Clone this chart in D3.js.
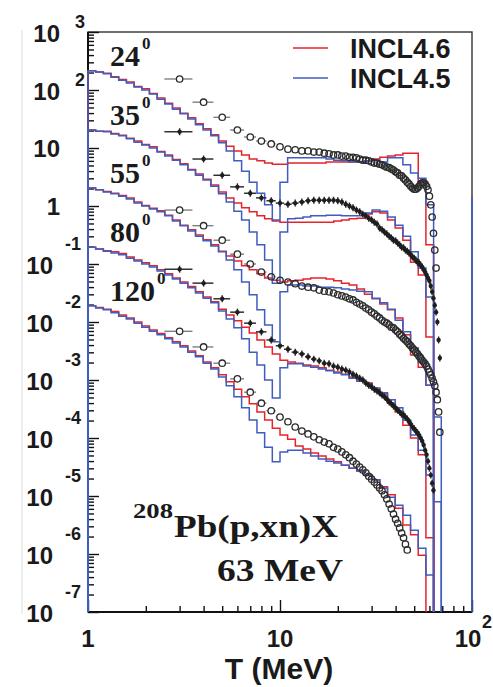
<!DOCTYPE html>
<html>
<head>
<meta charset="utf-8">
<style>
  html, body { margin: 0; padding: 0; background: #fff; }
  svg { display: block; }
</style>
<script src="https://cdn.jsdelivr.net/npm/d3@7"></script>
</head>
<body>
<div id="graph"></div>
<script>
// Values are log10 of d2sigma/dOmega dT (mb/sr/MeV).
// Model histograms share these bin edges (MeV).
const binEdges = [1, 1.096, 1.202, 1.318, 1.445, 1.585, 1.738, 1.905, 2.089, 2.291,
  2.512, 2.754, 3.02, 3.311, 3.631, 3.981, 4.365, 4.786, 5.248, 5.754, 6.31, 6.918,
  7.586, 8.318, 9.12, 10, 10.96, 12.02, 13.18, 14.45, 15.85, 17.38, 19.05, 20.89,
  22.91, 25.12, 27.54, 30.2, 33.11, 36.31, 39.81, 43.65, 47.86, 52.48, 57.54, 63.1, 69.18];

const angles = ["24", "35", "55", "80", "120"];

// INCL4.6 (red)
const incl46_24 = [2.33, 2.31, 2.29, 2.23, 2.18, 2.14, 2.06, 2.02, 1.94, 1.86, 1.77, 1.69, 1.60, 1.52, 1.42, 1.33, 1.23,
  1.12, 1.03, 0.95, 0.88, 0.81, 0.78, 0.74, 0.72,
  0.72, 0.74, 0.74, 0.74, 0.74, 0.74, 0.76, 0.76, 0.76, 0.76, 0.76,
  0.78, 0.81, 0.84, 0.86, 0.88, 0.91, 0.91, 0.41, -0.67, null];
const incl46_35 = [1.31, 1.29, 1.29, 1.25, 1.22, 1.17, 1.12, 1.06, 1.02, 0.94, 0.88, 0.80, 0.73, 0.63, 0.55, 0.46, 0.36,
  0.24, 0.14, 0.05, -0.03, -0.10, -0.17, -0.22, -0.26,
  -0.28, -0.28, -0.28, -0.28, -0.28, -0.28, -0.28, -0.26, -0.24, -0.22, -0.21,
  -0.14, -0.10, -0.12, -0.24, -0.38, -0.59, -0.97, -1.19, -2.26, null];
const incl46_55 = [0.31, 0.28, 0.25, 0.22, 0.18, 0.14, 0.07, 0.01, -0.04, -0.08, -0.16, -0.24, -0.33, -0.41, -0.50, -0.58, -0.67,
  -0.78, -0.86, -0.95, -1.03, -1.10, -1.17, -1.24, -1.28,
  -1.31, -1.29, -1.28, -1.26, -1.24, -1.24, -1.26, -1.29, -1.33, -1.36, -1.43,
  -1.52, -1.60, -1.69, -1.79, -1.93, -2.22, -2.57, -2.78, -3.09, null];
const incl46_80 = [-0.71, -0.74, -0.77, -0.79, -0.82, -0.88, -0.93, -0.98, -1.03, -1.10, -1.17, -1.24, -1.31, -1.39, -1.48, -1.57, -1.65,
  -1.78, -1.88, -1.98, -2.09, -2.19, -2.31, -2.43, -2.55,
  -2.66, -2.69, -2.71, -2.74, -2.76, -2.79, -2.83, -2.86, -2.90, -2.95, -3.00,
  -3.05, -3.16, -3.24, -3.40, -3.55, -3.78, -4.00, -4.29, -5.72, null];
const incl46_120 = [-1.72, -1.75, -1.78, -1.82, -1.88, -1.93, -2.00, -2.07, -2.14, -2.20, -2.27, -2.34, -2.41, -2.50, -2.58, -2.69, -2.79,
  -2.91, -3.03, -3.16, -3.29, -3.41, -3.55, -3.69, -3.83,
  -3.95, -4.02, -4.14, -4.19, -4.26, -4.31, -4.36, -4.41, -4.47, -4.52, -4.57,
  -4.64, -4.72, -4.84, -4.98, -5.21, -5.50, -5.67, -6.02, null, null];

// INCL4.5 (blue)
const incl45_24 = [2.33, 2.31, 2.28, 2.22, 2.17, 2.12, 2.05, 2.00, 1.93, 1.84, 1.76, 1.67, 1.59, 1.50, 1.40, 1.31, 1.21,
  1.09, 0.95, 0.78, 0.60, 0.41, 0.22, 0.02, -0.24,
  0.41, 0.83, 0.83, 0.83, 0.83, 0.83, 0.81, 0.79, 0.78, 0.76, 0.76,
  0.78, 0.79, 0.76, 0.83, 0.83, 0.71, 0.57, 0.48, 0.02, null];
const incl45_35 = [1.31, 1.29, 1.28, 1.24, 1.21, 1.16, 1.10, 1.05, 1.00, 0.93, 0.86, 0.79, 0.71, 0.62, 0.53, 0.45, 0.34,
  0.21, 0.07, -0.09, -0.24, -0.45, -0.67, -0.93, -1.33,
  -0.45, -0.22, -0.21, -0.19, -0.17, -0.17, -0.16, -0.16, -0.17, -0.17, -0.17,
  -0.12, -0.07, -0.09, -0.19, -0.33, -0.52, -0.79, -1.07, -1.57, null];
const incl45_55 = [0.31, 0.28, 0.24, 0.21, 0.17, 0.12, 0.05, 0.00, -0.05, -0.10, -0.17, -0.26, -0.34, -0.43, -0.52, -0.60, -0.69,
  -0.79, -0.93, -1.10, -1.31, -1.53, -1.79, -2.05, -2.34,
  -1.48, -1.36, -1.36, -1.38, -1.38, -1.40, -1.40, -1.41, -1.43, -1.45, -1.47,
  -1.48, -1.59, -1.67, -1.78, -1.97, -2.17, -2.45, -2.69, -3.09, -3.64];
const incl45_80 = [-0.71, -0.74, -0.78, -0.81, -0.84, -0.90, -0.95, -1.00, -1.05, -1.12, -1.19, -1.26, -1.33, -1.41, -1.50, -1.59, -1.67,
  -1.81, -1.95, -2.10, -2.29, -2.52, -2.74, -3.00, -3.31,
  -2.79, -2.72, -2.72, -2.76, -2.78, -2.81, -2.84, -2.88, -2.91, -2.97, -3.02,
  -3.07, -3.14, -3.22, -3.34, -3.48, -3.69, -3.95, -4.21, -4.64, -5.10];
const incl45_120 = [-1.72, -1.76, -1.79, -1.84, -1.90, -1.95, -2.02, -2.09, -2.16, -2.22, -2.29, -2.36, -2.43, -2.52, -2.60, -2.71, -2.81,
  -2.95, -3.10, -3.29, -3.48, -3.69, -3.91, -4.16, -4.41,
  -4.24, -4.21, -4.21, -4.26, -4.31, -4.36, -4.40, -4.43, -4.47, -4.52, -4.57,
  -4.64, -4.72, -4.86, -5.02, -5.16, -5.33, -5.59, -5.90, -6.36, null];

// Measured spectra, 1 MeV wide bins
const dataT = [3, 4, 5, 6, 7, 8, 9, 10, 11, 12, 13, 14, 15, 16, 17, 18, 19, 20, 21, 22,
  23, 24, 25, 26, 27, 28, 29, 30, 31, 32, 33, 34, 35, 36, 37, 38, 39, 40, 41, 42,
  43, 44, 45, 46, 47, 48, 49, 50, 51, 52, 53, 54, 55, 56, 57, 58, 59, 60, 61, 62,
  63, 64, 65, 66, 67, 68];
const exp24 = [2.19, 1.79, 1.53, 1.31, 1.19, 1.12, 1.07, 1.02, 0.98, 0.97,
  0.95, 0.95, 0.93, 0.93, 0.91, 0.90, 0.88, 0.88, 0.86, 0.86,
  0.84, 0.84, 0.83, 0.81, 0.79, 0.79, 0.78, 0.76, 0.74, 0.74,
  0.72, 0.71, 0.69, 0.67, 0.66, 0.64, 0.62, 0.59, 0.57, 0.53,
  0.52, 0.48, 0.45, 0.41, 0.38, 0.34, 0.31, 0.29, 0.29, 0.31,
  0.34, 0.38, 0.40, 0.40, 0.38, 0.34, 0.28, 0.17, 0.02, -0.19,
  -0.47, -0.76, -1.07];
const exp35 = [1.28, 0.81, 0.53, 0.33, 0.22, 0.14, 0.09, 0.05, 0.03, 0.05,
  0.07, 0.09, 0.10, 0.10, 0.10, 0.10, 0.10, 0.09, 0.07, 0.03,
  0.00, -0.03, -0.07, -0.10, -0.14, -0.17, -0.21, -0.24, -0.28, -0.31,
  -0.38, -0.41, -0.45, -0.48, -0.52, -0.55, -0.59, -0.60, -0.64, -0.67,
  -0.71, -0.72, -0.76, -0.78, -0.81, -0.84, -0.88, -0.90, -0.93, -0.97,
  -0.98, -1.02, -1.05, -1.10, -1.14, -1.19, -1.24, -1.29, -1.38, -1.48,
  -1.59, -1.71, -1.83, -2.00, -2.31, -2.62];
const exp55 = [-0.07, -0.34, -0.59, -0.83, -1.00, -1.14, -1.22, -1.28, -1.31, -1.34,
  -1.38, -1.40, -1.41, -1.45, -1.47, -1.48, -1.50, -1.53, -1.55, -1.57,
  -1.60, -1.62, -1.66, -1.69, -1.72, -1.76, -1.79, -1.83, -1.86, -1.90,
  -1.93, -1.97, -2.00, -2.02, -2.05, -2.09, -2.10, -2.14, -2.17, -2.21,
  -2.24, -2.28, -2.31, -2.34, -2.38, -2.41, -2.45, -2.48, -2.52, -2.55,
  -2.59, -2.62, -2.66, -2.69, -2.72, -2.76, -2.81, -2.86, -2.91, -2.97,
  -3.03, -3.10, -3.21, -3.34, -3.55, -3.90];
const exp80 = [-1.09, -1.33, -1.60, -1.83, -2.02, -2.17, -2.31, -2.41, -2.47, -2.52,
  -2.55, -2.60, -2.64, -2.67, -2.71, -2.72, -2.76, -2.78, -2.81, -2.83,
  -2.86, -2.90, -2.93, -2.97, -3.00, -3.05, -3.09, -3.12, -3.16, -3.19,
  -3.22, -3.26, -3.29, -3.33, -3.38, -3.41, -3.45, -3.48, -3.52, -3.55,
  -3.59, -3.60, -3.64, -3.67, -3.72, -3.76, -3.81, -3.84, -3.88, -3.91,
  -3.95, -4.00, -4.05, -4.12, -4.21, -4.29, -4.40, -4.52, -4.64, -4.78,
  -4.90];
const exp120 = [-2.16, -2.43, -2.71, -2.98, -3.21, -3.40, -3.53, -3.64, -3.72, -3.81,
  -3.88, -3.93, -3.98, -4.03, -4.07, -4.10, -4.16, -4.19, -4.24, -4.29,
  -4.34, -4.40, -4.45, -4.50, -4.55, -4.60, -4.66, -4.71, -4.76, -4.81,
  -4.86, -4.91, -4.98, -5.05, -5.14, -5.22, -5.31, -5.40, -5.47, -5.55,
  -5.64, -5.72, -5.83, -5.93];
const dataErrLog = 0.06; // vertical error bar half-size, log10 units
const yExponents = [3, 2, 1, 0, -1, -2, -3, -4, -5, -6, -7];
const xMajor = [1, 10, 100];
const legendNames = ["INCL4.6", "INCL4.5"];
// stray INCL4.5 line on the right frame edge
const edgeSpike = { T: 100, top: 0.16 };

const red = "#e5232b";
const blue = "#3f5cbf";
const sans = "'Liberation Sans', Arial, sans-serif";
const serif = "'Liberation Serif', 'Times New Roman', serif";

const width = 493;
const height = 687;
const frame = { left: 88, right: 472, top: 32, bottom: 612 };

const svg = d3.select("#graph").append("svg")
  .attr("width", width).attr("height", height);

const x = d3.scaleLog().domain([1, 100]).range([frame.left, frame.right]);
const y = d3.scaleLog().domain([1e-7, 1e3]).range([frame.bottom, frame.top]);

// faint page edge on the left
svg.append("line")
  .attr("x1", 22).attr("x2", 22).attr("y1", 30).attr("y2", 614)
  .attr("stroke", "#e2e2e2").attr("stroke-width", 1.2);

// frame
svg.append("rect")
  .attr("x", frame.left).attr("y", frame.top)
  .attr("width", frame.right - frame.left).attr("height", frame.bottom - frame.top)
  .attr("fill", "none").attr("stroke", "#333").attr("stroke-width", 1.4);

// ticks, pointing into the frame
const yAll = y.ticks(40);
const yMajorVals = yExponents.map((e) => 10 ** e);
const yMinorVals = yAll.filter((v) => !yMajorVals.some((m) => Math.abs(m - v) / m < 1e-6));
const xAll = x.ticks();
const xMinorVals = xAll.filter((v) => !xMajor.includes(v));

function tickGroup(axis) {
  const g = svg.append("g").call(axis);
  g.select(".domain").remove();
  g.selectAll(".tick line").attr("stroke", "#111").attr("stroke-width", 1.4);
  return g;
}
tickGroup(d3.axisRight(y).tickValues(yMajorVals).tickSize(11).tickFormat(""))
  .attr("transform", `translate(${frame.left},0)`);
tickGroup(d3.axisRight(y).tickValues(yMinorVals).tickSize(6).tickFormat(""))
  .attr("transform", `translate(${frame.left},0)`);
tickGroup(d3.axisTop(x).tickValues(xMajor).tickSize(12).tickFormat(""))
  .attr("transform", `translate(0,${frame.bottom})`);
tickGroup(d3.axisTop(x).tickValues(xMinorVals).tickSize(6).tickFormat(""))
  .attr("transform", `translate(0,${frame.bottom})`);

// axis lines
svg.append("line").attr("x1", frame.left).attr("x2", frame.left)
  .attr("y1", frame.top).attr("y2", frame.bottom).attr("stroke", "#111").attr("stroke-width", 2);
svg.append("line").attr("x1", frame.left).attr("x2", frame.right)
  .attr("y1", frame.bottom).attr("y2", frame.bottom).attr("stroke", "#111").attr("stroke-width", 2);

// y tick labels, ROOT style with detached exponents
const yLab = svg.append("g").attr("font-family", sans).attr("font-weight", "bold").attr("fill", "#1a1a1a");
yExponents.forEach((e) => {
  const ty = y(10 ** e);
  if (e === 0) {
    yLab.append("text").attr("x", 60).attr("y", ty + 9).attr("text-anchor", "end")
      .attr("font-size", 24).text("1");
  } else if (e === 1) {
    yLab.append("text").attr("x", 60).attr("y", ty + 9).attr("text-anchor", "end")
      .attr("font-size", 24).text("10");
  } else if (e > 0) {
    yLab.append("text").attr("x", 60).attr("y", ty + 10).attr("text-anchor", "end")
      .attr("font-size", 24).text("10");
    yLab.append("text").attr("x", 75).attr("y", ty - 4)
      .attr("font-size", 18).text(e);
  } else {
    yLab.append("text").attr("x", 53).attr("y", ty + 10).attr("text-anchor", "end")
      .attr("font-size", 24).text("10");
    yLab.append("text").attr("x", 65).attr("y", ty - 14)
      .attr("font-size", 18).text("-" + Math.abs(e));
  }
});

// x tick labels
const xLab = svg.append("g").attr("font-family", sans).attr("font-weight", "bold").attr("fill", "#1a1a1a");
xMajor.forEach((v) => {
  const tx = x(v);
  if (v === 100) {
    xLab.append("text").attr("x", tx - 4).attr("y", 647).attr("text-anchor", "middle")
      .attr("font-size", 24).text("10");
    xLab.append("text").attr("x", tx + 10).attr("y", 628).attr("font-size", 18).text("2");
  } else {
    xLab.append("text").attr("x", tx).attr("y", 647).attr("text-anchor", "middle")
      .attr("font-size", 24).text(v);
  }
});
svg.append("text")
  .attr("x", 279).attr("y", 679).attr("text-anchor", "middle")
  .attr("font-family", sans).attr("font-weight", "bold").attr("font-size", 30)
  .attr("fill", "#1a1a1a").text("T (MeV)");

// clip for the plot area
svg.append("clipPath").attr("id", "plotclip").append("rect")
  .attr("x", frame.left - 1).attr("y", frame.top)
  .attr("width", frame.right - frame.left + 2).attr("height", frame.bottom - frame.top + 1);
const plot = svg.append("g").attr("clip-path", "url(#plotclip)");

// step histograms
const stepLine = d3.line().x((d) => x(d[0])).y((d) => y(d[1])).curve(d3.curveStepAfter);
function histPoints(lg) {
  const floor = y.domain()[0];
  const pts = [[binEdges[0], floor]];
  let last = null;
  lg.forEach((v, i) => {
    if (v == null) return;
    pts.push([binEdges[i], 10 ** v]);
    last = i;
  });
  pts.push([binEdges[last + 1], 10 ** lg[last]]);
  pts.push([binEdges[last + 1], floor]);
  return pts;
}

const models = [
  { color: red, sets: [incl46_24, incl46_35, incl46_55, incl46_80, incl46_120] },
  { color: blue, sets: [incl45_24, incl45_35, incl45_55, incl45_80, incl45_120] },
];
models.forEach((m) => {
  plot.append("g").selectAll("path")
    .data(m.sets)
    .enter()
    .append("path")
    .attr("d", (lg) => stepLine(histPoints(lg)))
    .attr("fill", "none")
    .attr("stroke", m.color)
    .attr("stroke-width", 1.5);
});

plot.append("line")
  .attr("x1", x(edgeSpike.T)).attr("x2", x(edgeSpike.T))
  .attr("y1", y(10 ** edgeSpike.top)).attr("y2", y(1e-7))
  .attr("stroke", blue).attr("stroke-width", 1.6);

// measured points
const expSets = [
  { vals: exp24, kind: "open" },
  { vals: exp35, kind: "dot" },
  { vals: exp55, kind: "open" },
  { vals: exp80, kind: "dot" },
  { vals: exp120, kind: "open" },
];
const r = 3.2;
expSets.forEach((s) => {
  const pts = s.vals.map((v, i) => ({ T: dataT[i], v: 10 ** v, lg: v }));
  const g = plot.append("g");
  if (s.kind === "open") {
    pts.forEach((d) => {
      const cx = x(d.T), cy = y(d.v);
      const xl = x(d.T - 0.5), xr = x(d.T + 0.5);
      if (cx - r - xl > 0.5) {
        g.append("line").attr("x1", xl).attr("x2", cx - r).attr("y1", cy).attr("y2", cy)
          .attr("stroke", "#777").attr("stroke-width", 1.3);
        g.append("line").attr("x1", cx + r).attr("x2", xr).attr("y1", cy).attr("y2", cy)
          .attr("stroke", "#777").attr("stroke-width", 1.3);
      }
    });
    g.selectAll("circle").data(pts).enter().append("circle")
      .attr("cx", (d) => x(d.T)).attr("cy", (d) => y(d.v)).attr("r", r)
      .attr("fill", "none").attr("stroke", "#2b2b2b").attr("stroke-width", 1.3);
  } else {
    g.selectAll("line.h").data(pts).enter().append("line")
      .attr("x1", (d) => x(d.T - 0.5)).attr("x2", (d) => x(d.T + 0.5))
      .attr("y1", (d) => y(d.v)).attr("y2", (d) => y(d.v))
      .attr("stroke", "#222").attr("stroke-width", 1.4);
    g.selectAll("line.v").data(pts).enter().append("line")
      .attr("x1", (d) => x(d.T)).attr("x2", (d) => x(d.T))
      .attr("y1", (d) => y(10 ** (d.lg - dataErrLog))).attr("y2", (d) => y(10 ** (d.lg + dataErrLog)))
      .attr("stroke", "#222").attr("stroke-width", 1.4);
    g.selectAll("circle").data(pts).enter().append("circle")
      .attr("cx", (d) => x(d.T)).attr("cy", (d) => y(d.v)).attr("r", 2.2)
      .attr("fill", "#1e1e1e");
  }
});

// angle labels, placed just above each spectrum
const angleFirst = [incl45_24[0], incl45_35[0], incl45_55[0], incl45_80[0], incl45_120[0]];
angles.forEach((a, i) => {
  const t = svg.append("text")
    .attr("x", 110).attr("y", y(10 ** angleFirst[i]) - 5)
    .attr("font-family", serif).attr("font-weight", "bold").attr("font-size", 30)
    .attr("fill", "#1a1a1a");
  t.append("tspan").text(a);
  t.append("tspan").attr("font-size", 17).attr("dy", -17).attr("dx", 2).text("0");
});

// legend
const legend = svg.append("g");
[red, blue].forEach((c, i) => {
  const ly = 48 + i * 30;
  legend.append("line").attr("x1", 293).attr("x2", 328).attr("y1", ly).attr("y2", ly)
    .attr("stroke", c).attr("stroke-width", 1.6);
  legend.append("text").attr("x", 350).attr("y", ly + 9.5)
    .attr("font-family", sans).attr("font-weight", "bold").attr("font-size", 27)
    .attr("fill", "#1a1a1a").text(legendNames[i]);
});

// reaction annotation
const note = svg.append("g").attr("font-family", serif).attr("font-weight", "bold").attr("fill", "#1a1a1a");
note.append("text").attr("x", 133).attr("y", 518).attr("font-size", 22)
  .attr("textLength", 40).attr("lengthAdjust", "spacingAndGlyphs").text("208");
note.append("text").attr("x", 174).attr("y", 537).attr("font-size", 31)
  .attr("textLength", 164).attr("lengthAdjust", "spacingAndGlyphs").text("Pb(p,xn)X");
note.append("text").attr("x", 217).attr("y", 581).attr("font-size", 31)
  .attr("textLength", 126).attr("lengthAdjust", "spacingAndGlyphs").text("63 MeV");
</script>
</body>
</html>
